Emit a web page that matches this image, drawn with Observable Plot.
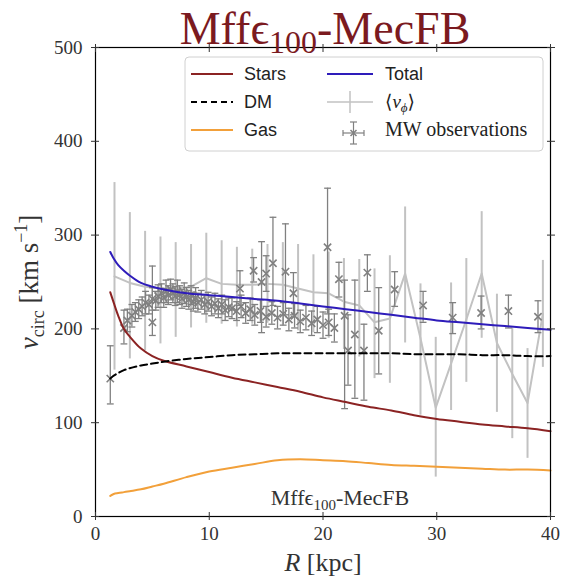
<!DOCTYPE html>
<html>
<head>
<meta charset="utf-8">
<script src="https://cdn.jsdelivr.net/npm/d3@7"></script>
<script src="https://cdn.jsdelivr.net/npm/@observablehq/plot@0.6"></script>
<style>
  html, body { margin: 0; padding: 0; background: #fff; }
  #chart { width: 565px; height: 578px; }
</style>
</head>
<body>
<div id="chart"></div>
<script>
// ---- model curves ----
const curveR = [1.3,1.6,2,2.5,3,4,5,6,8,10,12,14,16,18,20,22,24,26,28,30,32,34,36,38,40];
const totalV = [282,275,268,262,257,249,245,242,238,236,234,232,230,227,224,221,218,215,212,209,207,205,203,201,199];
const starsV = [239,228,214,200,192,179,171,166,160,154,148,143,138,133,127,122,117,113,108,104,101,98,96,94,91];
const dmV    = [147,150,153,156,158,161,163,165,168,170,172,173,174,174,174,174,174,174,173,173,173,172,172,171,171];
const gasV   = [22,24,25,26,27,29,32,35,42,48,52,56,60,61,60,59,57,55,54,53,52,51,50,50,49];

// ---- <v_phi> binned profile ----
const vphiR  = [1.67,3.02,4.36,5.71,7.05,8.40,9.74,11.09,12.43,13.78,15.12,16.47,17.81,19.16,20.50,21.84,23.19,24.53,25.88,27.22,28.57,29.91,31.26,32.60,33.95,35.29,36.64,37.98,39.33];
const vphiV  = [256,249,245,243,243,245,254,248,247,247,248,247,243,239,238,229,225,207,211,259,190,116,163,210,259,185,152,121,216];
const vphiLo = [156,168,177,184,191,201,206,205,202,205,206,203,198,196,190,178,170,147,142,185,108,42,113,143,190,111,83,62,159];
const vphiHi = [356,324,304,298,292,290,302,294,287,285,290,292,290,279,282,275,274,264,278,330,248,191,249,275,325,237,201,179,273];

// ---- MW observations ----
const obsR = [1.3,2.5,2.8,3.2,3.5,3.8,4.1,4.4,4.7,5.0,5.0,5.3,5.5,5.8,6.0,6.2,6.4,6.6,6.8,7.0,7.2,7.4,7.6,7.8,8.0,8.2,8.4,8.6,8.8,9.0,9.3,9.6,9.9,10.2,10.5,10.8,11.1,11.4,11.7,12.0,12.4,12.8,13.2,13.6,14.0,14.5,15.0,15.5,16.0,16.5,17.0,17.5,18.0,18.5,19.0,19.5,20.0,20.5,21.0,
  12.7,13.9,14.6,15.0,15.6,16.7,17.4,20.4,21.4,21.9,22.2,22.8,23.6,23.9,24.9,26.3,28.8,31.4,33.9,36.3,38.9];
const obsV = [147,201,209,214,218,221,224,228,226,207,232,230,235,238,233,240,236,242,238,235,240,236,232,238,234,231,236,229,233,228,231,226,229,224,227,222,226,220,223,222,219,224,217,221,215,219,213,217,212,216,210,214,208,212,206,210,204,207,201,
  243,262,250,259,270,261,238,287,253,214,177,194,177,260,198,242,225,212,217,219,213];
const obsErrLo = [27,17,12,12,10,10,10,12,10,14,12,10,12,10,10,12,10,11,10,10,12,10,10,11,10,10,10,10,11,10,10,10,10,10,11,10,10,11,10,11,10,12,11,12,11,12,11,12,12,12,12,13,12,13,13,14,14,14,15,
  18,12,54,19,45,46,23,71,19,99,37,68,53,20,46,18,18,17,17,18,17];
const obsErrHi = [35,19,12,12,10,10,10,12,10,60,12,10,12,10,10,12,10,11,10,10,12,10,10,11,10,10,10,10,11,10,10,10,10,10,11,10,10,11,10,11,10,12,11,12,11,12,11,12,12,12,12,13,12,13,13,14,14,14,15,
  19,14,43,19,49,51,22,63,18,38,38,58,28,19,46,19,15,16,18,17,17];

const xTicks = [0,10,20,30,40];
const yTicks = [0,100,200,300,400,500];

const curves = curveR.map((R, i) => ({R, total: totalV[i], stars: starsV[i], dm: dmV[i], gas: gasV[i]}));
const vphi = vphiR.map((R, i) => ({R, v: vphiV[i], lo: vphiLo[i], hi: vphiHi[i]}));
const obs = obsR.map((R, i) => ({R, v: obsV[i], lo: obsV[i] - obsErrLo[i], hi: obsV[i] + obsErrHi[i]}));

const C_STARS = "#8b2323", C_TOTAL = "#2e1cba", C_GAS = "#f2a03a";
const C_VPHI = "#c2c2c2", C_OBS = "#808080";
const SERIF = "'Liberation Serif', 'DejaVu Serif', serif";
const capW = 0.3;

const svg = Plot.plot({
  width: 565,
  height: 578,
  marginLeft: 95,
  marginRight: 15,
  marginTop: 47,
  marginBottom: 62,
  style: {fontFamily: SERIF, fontSize: "19px", color: "#333", background: "white"},
  x: {domain: [0, 40], ticks: xTicks, label: null},
  y: {domain: [0, 500], ticks: yTicks, label: null},
  marks: [
    // <v_phi>
    Plot.ruleX(vphi, {x: "R", y1: "lo", y2: "hi", stroke: C_VPHI, strokeWidth: 2}),
    Plot.line(vphi, {x: "R", y: "v", stroke: C_VPHI, strokeWidth: 2}),
    // observations
    Plot.ruleX(obs, {x: "R", y1: "lo", y2: "hi", stroke: C_OBS, strokeWidth: 1.3}),
    Plot.link(obs, {x1: d => d.R - capW, x2: d => d.R + capW, y1: "lo", y2: "lo", stroke: C_OBS, strokeWidth: 1.3}),
    Plot.link(obs, {x1: d => d.R - capW, x2: d => d.R + capW, y1: "hi", y2: "hi", stroke: C_OBS, strokeWidth: 1.3}),
    Plot.dot(obs, {x: "R", y: "v", symbol: "times", r: 3.4, stroke: C_OBS, strokeWidth: 1.6}),
    // model curves
    Plot.line(curves, {x: "R", y: "gas", stroke: C_GAS, strokeWidth: 2, curve: "catmull-rom"}),
    Plot.line(curves, {x: "R", y: "stars", stroke: C_STARS, strokeWidth: 2, curve: "catmull-rom"}),
    Plot.line(curves, {x: "R", y: "dm", stroke: "#000", strokeWidth: 2, strokeDasharray: "7,4", curve: "catmull-rom"}),
    Plot.line(curves, {x: "R", y: "total", stroke: C_TOTAL, strokeWidth: 2, curve: "catmull-rom"}),
    // frame & axes
    Plot.frame({stroke: "#000", strokeWidth: 1.2}),
    Plot.axisX({ticks: xTicks, tickSize: 4, tickPadding: 6, fontSize: 19, label: null}),
    Plot.axisX({ticks: xTicks, tickSize: -4, tickFormat: () => "", label: null}),
    Plot.axisX({anchor: "top", ticks: xTicks, tickSize: 4, tickFormat: () => "", label: null}),
    Plot.axisX({anchor: "top", ticks: xTicks, tickSize: -4, tickFormat: () => "", label: null}),
    Plot.axisY({ticks: yTicks, tickSize: 4, tickPadding: 9, fontSize: 19, label: null}),
    Plot.axisY({ticks: yTicks, tickSize: -4, tickFormat: () => "", label: null}),
    Plot.axisY({anchor: "right", ticks: yTicks, tickSize: 4, tickFormat: () => "", label: null}),
    Plot.axisY({anchor: "right", ticks: yTicks, tickSize: -4, tickFormat: () => "", label: null})
  ]
});

const s = d3.select(svg);

// Title
const title = s.append("text").attr("x", 325).attr("y", 44).attr("text-anchor", "middle")
  .attr("font-family", SERIF).attr("font-size", 46).attr("fill", "#7b1a1f");
title.append("tspan").text("Mffϵ");
title.append("tspan").attr("dy", 9).attr("font-size", 32).text("100");
title.append("tspan").attr("dy", -9).text("-MecFB");

// in-panel label
const lab = s.append("text").attr("x", 340).attr("y", 505).attr("text-anchor", "middle")
  .attr("font-family", SERIF).attr("font-size", 22).attr("fill", "#333");
lab.append("tspan").text("Mffϵ");
lab.append("tspan").attr("dy", 5).attr("font-size", 15).text("100");
lab.append("tspan").attr("dy", -5).text("-MecFB");

// x label
const xl = s.append("text").attr("x", 323).attr("y", 571).attr("text-anchor", "middle")
  .attr("font-family", SERIF).attr("font-size", 26).attr("fill", "#333");
xl.append("tspan").attr("font-style", "italic").text("R");
xl.append("tspan").text(" [kpc]");

// y label
const yl = s.append("text").attr("transform", "translate(38,282) rotate(-90)").attr("text-anchor", "middle")
  .attr("font-family", SERIF).attr("font-size", 27).attr("fill", "#333");
yl.append("tspan").attr("font-style", "italic").text("v");
yl.append("tspan").attr("dy", 6).attr("font-size", 18).text("circ");
yl.append("tspan").attr("dy", -6).text(" [km s");
yl.append("tspan").attr("dy", -11).attr("font-size", 18).text("−1");
yl.append("tspan").attr("dy", 11).text("]");

// Legend
const lg = s.append("g").attr("text-anchor", "start");
lg.append("rect").attr("x", 185).attr("y", 57).attr("width", 358).attr("height", 94).attr("rx", 4)
  .attr("fill", "white").attr("fill-opacity", 0.85).attr("stroke", "#d0d0d0").attr("stroke-width", 1);
const SANS = "'Liberation Sans', Arial, sans-serif";
const rows = [74, 102, 130];
const leftItems = [
  {label: "Stars", stroke: C_STARS, dash: null},
  {label: "DM", stroke: "#000", dash: "6,4"},
  {label: "Gas", stroke: C_GAS, dash: null}
];
leftItems.forEach((it, i) => {
  lg.append("line").attr("x1", 191).attr("x2", 233).attr("y1", rows[i]).attr("y2", rows[i])
    .attr("stroke", it.stroke).attr("stroke-width", 2).attr("stroke-dasharray", it.dash);
  lg.append("text").attr("x", 244).attr("y", rows[i] + 6).attr("text-anchor", "start").attr("font-family", SANS).attr("font-size", 18)
    .attr("fill", "#222").text(it.label);
});
// Total
lg.append("line").attr("x1", 327).attr("x2", 373).attr("y1", rows[0]).attr("y2", rows[0])
  .attr("stroke", C_TOTAL).attr("stroke-width", 2);
lg.append("text").attr("x", 385).attr("y", rows[0] + 6).attr("text-anchor", "start").attr("font-family", SANS).attr("font-size", 18)
  .attr("fill", "#222").text("Total");
// <v_phi>
lg.append("line").attr("x1", 327).attr("x2", 373).attr("y1", rows[1]).attr("y2", rows[1])
  .attr("stroke", C_VPHI).attr("stroke-width", 1.5);
lg.append("line").attr("x1", 350).attr("x2", 350).attr("y1", rows[1] - 11).attr("y2", rows[1] + 11)
  .attr("stroke", C_VPHI).attr("stroke-width", 1.5);
const vp = lg.append("text").attr("x", 385).attr("y", rows[1] + 6).attr("text-anchor", "start").attr("font-family", SERIF).attr("font-size", 19).attr("fill", "#222");
vp.append("tspan").text("⟨");
vp.append("tspan").attr("font-style", "italic").text("v");
vp.append("tspan").attr("dy", 4).attr("font-size", 13).attr("font-style", "italic").text("ϕ");
vp.append("tspan").attr("dy", -4).text("⟩");
// MW observations
const oy = rows[2] + 3;
const ol = (x1, y1, x2, y2) => lg.append("line").attr("x1", x1).attr("y1", y1).attr("x2", x2).attr("y2", y2).attr("stroke", C_OBS).attr("stroke-width", 1.2);
ol(343, oy, 364, oy);
ol(343, oy - 3, 343, oy + 3);
ol(364, oy - 3, 364, oy + 3);
ol(353.5, oy - 11, 353.5, oy + 11);
ol(350, oy - 11, 357, oy - 11);
ol(350, oy + 11, 357, oy + 11);
lg.append("path").attr("d", `M${350.5},${oy-3}L${356.5},${oy+3}M${350.5},${oy+3}L${356.5},${oy-3}`).attr("stroke", C_OBS).attr("stroke-width", 1.5);
lg.append("text").attr("x", 385).attr("y", rows[2] + 6).attr("text-anchor", "start").attr("font-family", SERIF).attr("font-size", 20)
  .attr("fill", "#222").text("MW observations");

document.getElementById("chart").appendChild(svg);
</script>
</body>
</html>
